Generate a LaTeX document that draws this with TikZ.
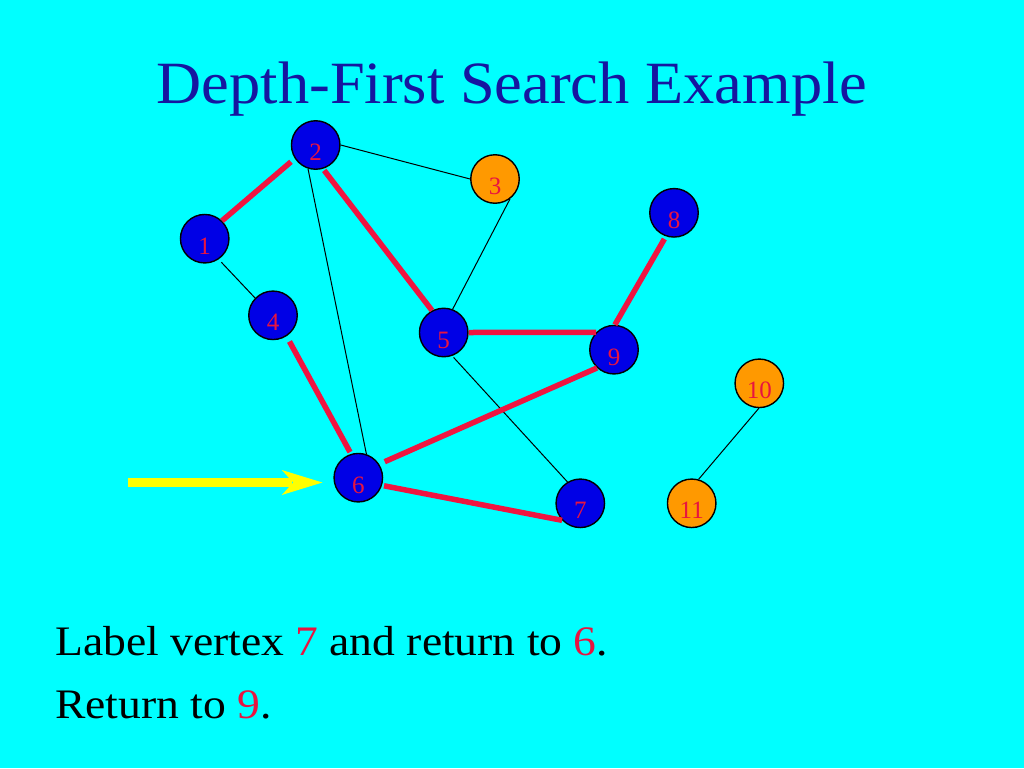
\documentclass[tikz,border=0pt]{standalone}
\usepackage{fontspec}
\setmainfont{Liberation Serif}
\newfontfamily\titlefont[FakeStretch=1.04]{Liberation Serif}
\newfontfamily\bodyfont[FakeStretch=1.085]{Liberation Serif}
\usetikzlibrary{calc}
\definecolor{bg}{RGB}{0,255,255}
\definecolor{titleblue}{RGB}{22,22,160}
\definecolor{vblue}{RGB}{0,0,230}
\definecolor{vorange}{RGB}{255,153,0}
\definecolor{lblred}{RGB}{232,20,64}
\definecolor{edgered}{RGB}{240,20,64}
\definecolor{arrowyellow}{RGB}{255,255,0}
\tikzset{
  vertex/.style={circle, draw=black, line width=1.4pt, minimum size=48.5pt, inner sep=0pt,
    text=lblred, font=\fontsize{25}{25}\selectfont, text height=31pt, text depth=0pt},
  visited/.style={vertex, fill=vblue},
  unvisited/.style={vertex, fill=vorange},
  treeedge/.style={draw=edgered, line width=5.5pt},
  backedge/.style={draw=black, line width=1pt},
  pointer/.style={draw=arrowyellow, line width=8.3pt},
  pointerhead/.style={fill=arrowyellow},
}
\begin{document}
\begin{tikzpicture}[x=1pt,y=-1pt]
\fill[bg] (0,0) rectangle (1024,768);
\useasboundingbox (0,0) rectangle (1024,768);
\node[anchor=base, text=titleblue, font=\titlefont\fontsize{60}{60}\selectfont] (title) at (512,103.5) {Depth-First Search Example};

\node[visited] (n1) at (204.7,238.7) {1};
\node[visited] (n2) at (315.7,145) {2};
\node[unvisited] (n3) at (495,179) {3};
\node[visited] (n4) at (273,315.3) {4};
\node[visited] (n5) at (443.7,332.5) {5};
\node[visited] (n6) at (358.3,477.7) {6};
\node[visited] (n7) at (580.3,503.3) {7};
\node[visited] (n8) at (674,212.8) {8};
\node[visited] (n9) at (614,349.7) {9};
\node[unvisited] (n10) at (759.3,383.3) {10};
\node[unvisited] (n11) at (691.7,503.3) {11};

% back / non-tree edges
\draw[backedge] (n2.0) -- (n3.180);
\draw[backedge] (n3.-53) -- (n5.69);
\draw[backedge, shorten <=4pt] (n1.-56) -- (n4.136);
\draw[backedge] (n2.-108) -- (n6.71);
\draw[backedge, shorten <=2pt] (n5.-70) -- (n7.121);
\draw[backedge] (n10.-91) -- (n11.74);

% tree edges
\draw[treeedge, shorten >=5pt] (n1.46) -- (n2.213);
\draw[treeedge, shorten <=2pt] (n2.-73) -- (n5.118);
\draw[treeedge] (n5.0) -- (n9.136);
\draw[treeedge, shorten >=3pt] (n9.88) -- (n8.251);
\draw[treeedge, shorten <=6pt, shorten >=2pt] (n4.-57) -- (n6.107);
\draw[treeedge, shorten <=6pt] (n6.33) -- (n9.227);
\draw[treeedge, shorten <=2pt] (n6.-18) -- (n7.223);

% pointer arrow
\coordinate (arrowstart) at (128.3,482.5);
\coordinate (arrowtip) at ($(arrowstart -| n6.west)+(-11,0)$);
\draw[pointer] (arrowstart) -- ($(arrowtip)+(-30,0)$);
\fill[pointerhead] (arrowtip) -- ++(-40.6,-12.5) -- ++(11.5,12.5) -- ++(-11.5,12.5) -- cycle;

\node[anchor=base west, font=\bodyfont\fontsize{42}{42}\selectfont, inner sep=0pt] (line1) at (55,655) {Label vertex \textcolor{lblred}{7} and return to \textcolor{lblred}{6}.};
\node[anchor=base west, font=\bodyfont\fontsize{42}{42}\selectfont, inner sep=0pt] (line2) at (55,718) {Return to \textcolor{lblred}{9}.};
\end{tikzpicture}
\end{document}
